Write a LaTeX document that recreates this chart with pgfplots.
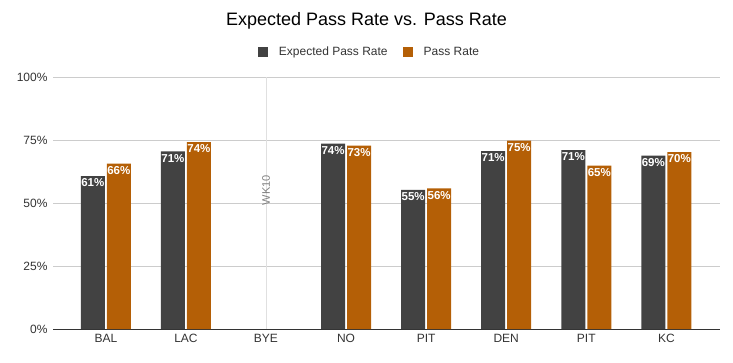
\documentclass[border=0pt]{standalone}
\usepackage{pgfplots}
\pgfplotsset{compat=1.18}
\usepackage{fontspec}
\setmainfont{Liberation Sans}
\definecolor{expc}{HTML}{424242}
\definecolor{prc}{HTML}{B45F06}
\definecolor{gridc}{HTML}{CCCCCC}
\definecolor{txtc}{HTML}{333333}
\begin{document}
\begin{tikzpicture}[x=1pt,y=1pt]
\useasboundingbox (0,0) rectangle (733,362);
\node[font=\fontsize{18}{20}\selectfont, text=black] at (366.5,341) {Expected Pass Rate vs. Pass Rate};
\begin{axis}[
  at={(53pt,33pt)}, anchor=south west,
  scale only axis, width=667pt, height=252pt,
  xmin=-0.66, xmax=7.67, ymin=0, ymax=100,
  ybar=2pt, bar width=24pt,
  axis line style={draw=none},
  major tick length=0pt,
  xtick={0,1,2,3,4,5,6,7},
  xticklabels={BAL,LAC,BYE,NO,PIT,DEN,PIT,KC},
  ytick={25,50,75,100},
  extra y ticks={0},
  extra y tick style={grid style={color=txtc, line width=0.9pt}},
  ymajorgrids, grid style={color=gridc, line width=0.6pt},
  /pgf/number format/assume math mode=true,
  yticklabel={\pgfmathprintnumber{\tick}\%},
  tick label style={font=\fontsize{12}{14}\selectfont, text=txtc},
  xticklabel style={yshift=-2pt},
  yticklabel style={xshift=-2pt},
  nodes near coords={\pgfmathprintnumber[fixed,precision=0]{\pgfplotspointmeta}\%},
  nodes near coords style={anchor=north, font=\bfseries\fontsize{11.5}{12}\selectfont, text=white, inner sep=1.5pt, yshift=-1pt},
  legend columns=2,
  legend style={at={(0.5,1)}, anchor=center, yshift=25pt, xshift=-17pt, draw=none, fill=none,
    font=\fontsize{12}{14}\selectfont, text=txtc,
    /tikz/every odd column/.append style={column sep=9pt},
    /tikz/every even column/.append style={column sep=13pt}},
  legend image code/.code={\fill[#1] (0pt,-5pt) rectangle (10pt,5pt);},
]
\draw[color=gridc!60, line width=0.6pt] (axis cs:2,0) -- (axis cs:2,100);
\node[rotate=90, font=\fontsize{11}{12}\selectfont, text=gray] at (axis cs:2,55) {WK10};
\addplot[fill=expc, draw=none] coordinates {(0,60.7) (1,70.5) (3,73.6) (4,55.2) (5,70.6) (6,71.0) (7,68.8)};
\addplot[fill=prc, draw=none] coordinates {(0,65.6) (1,74.2) (3,72.8) (4,55.8) (5,74.8) (6,64.8) (7,70.2)};
\legend{Expected Pass Rate, Pass Rate}
\end{axis}
\end{tikzpicture}
\end{document}
